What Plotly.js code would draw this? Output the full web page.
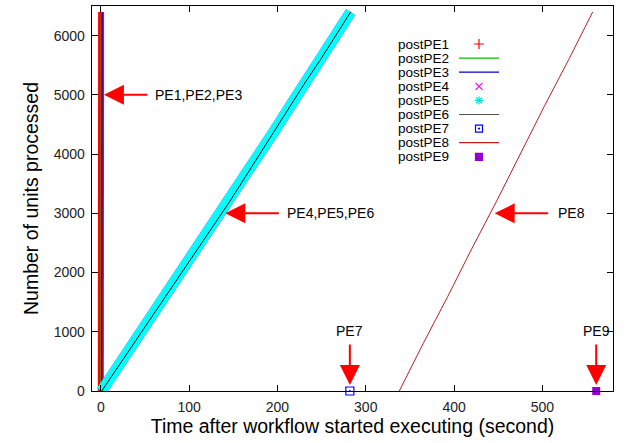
<!DOCTYPE html>
<html><head><meta charset="utf-8">
<script src="https://cdn.plot.ly/plotly-3.0.1.min.js"></script>
<style>html,body{margin:0;padding:0;background:#fff}#c{width:627px;height:443px}</style>
</head><body><div id="c"></div>
<script>
// ---- data ----
const seriesNames = ["postPE1","postPE2","postPE3","postPE4","postPE5","postPE6","postPE7","postPE8","postPE9"];
// PE1-PE3: almost vertical near t=0
const pe1Y = [0, 800, 1600, 2400, 3200, 4000, 4800, 5600, 6400];
const pe1X = [0, 0, 0, 0, 0.2, 0.2, 0.3, 0.3, 0.3];
const pe2X = [0.2, 0.2, 0.3, 0.3, 0.4, 0.4, 0.5, 0.5, 0.5];
const pe3X = [1.0, 1.0, 1.1, 1.1, 1.2, 1.2, 1.3, 1.3, 1.4];
// PE4-PE6: diagonal
const pe456Y = [0, 400, 800, 1200, 1600, 2000, 2400, 2800, 3200, 3600, 4000, 4400, 4800, 5200, 5600, 6000, 6400];
const pe456X = [1, 19, 37, 55, 73, 91, 110, 128, 146, 163, 180, 197, 214, 231, 249, 266, 283];
// PE7: single point
const pe7X = [282]; const pe7Y = [0];
// PE8: diagonal later
const pe8Y = [0, 800, 1600, 2400, 3200, 4000, 4800, 5600, 6400];
const pe8X = [338, 365, 393, 420, 448, 475, 502, 530, 557];
// PE9: single point
const pe9X = [561]; const pe9Y = [0];
// annotation labels
const labels = ["PE1,PE2,PE3", "PE4,PE5,PE6", "PE8", "PE7", "PE9"];
const xTicks = [0, 100, 200, 300, 400, 500];
const yTicks = [0, 1000, 2000, 3000, 4000, 5000, 6000];

// ---- styles ----
const colors = ["#ff0000","#00c000","#0000ff","#ff00ff","#00ffff","#000000","#0000ff","#b22222","#9400d3"];
const legendColors = ["#ff0000","#00c000","#0000cc","#ff00ff","#00e0e0","#555555","#0000ff","#b22222","#9400d3"];
const FONT = "Liberation Sans, Arial, Helvetica, sans-serif";

const traces = [
  {x: pe1X, y: pe1Y, mode: "lines", line: {color: colors[0], width: 6}},
  {x: pe2X, y: pe1Y, mode: "lines", line: {color: colors[1], width: 1.2}},
  {x: pe3X, y: pe1Y, mode: "lines", line: {color: colors[2], width: 1.2}},
  {x: pe456X, y: pe456Y, mode: "lines", line: {color: colors[3], width: 11}},
  {x: pe456X, y: pe456Y, mode: "lines", line: {color: colors[4], width: 11}},
  {x: pe456X, y: pe456Y, mode: "lines", line: {color: colors[5], width: 1}},
  {x: pe7X, y: pe7Y, mode: "markers", cliponaxis: false, marker: {symbol: "square-open-dot", size: 8, color: colors[6], line: {width: 1.2, color: colors[6]}}},
  {x: pe8X, y: pe8Y, mode: "lines", line: {color: colors[7], width: 1}},
  {x: pe9X, y: pe9Y, mode: "markers", cliponaxis: false, marker: {symbol: "square", size: 8, color: colors[8]}}
].map((t, i) => Object.assign(t, {name: seriesNames[i], showlegend: false, hoverinfo: "skip", xaxis: "x", yaxis: "y"}));

// ---- custom legend (gnuplot style: text then sample) on an overlay pixel axis ----
const legRow0 = 44, legStep = 14.1;
const legendKinds = ["cross-thin-open", "line", "line", "x-thin-open", "asterisk-open", "line", "square-open-dot", "line", "square"];
const annotations = [];
seriesNames.forEach((nm, i) => {
  const yy = legRow0 + i * legStep;
  annotations.push({xref: "x2", yref: "y2", x: 396, y: yy, text: nm, showarrow: false, xanchor: "left", yanchor: "middle",
    font: {family: FONT, size: 13.5, color: "#000"}});
  if (legendKinds[i] === "line") {
    traces.push({x: [459, 499], y: [yy, yy], mode: "lines", xaxis: "x2", yaxis: "y2", showlegend: false, hoverinfo: "skip",
      line: {color: legendColors[i], width: 1.2}});
  } else {
    traces.push({x: [479], y: [yy], mode: "markers", xaxis: "x2", yaxis: "y2", showlegend: false, hoverinfo: "skip",
      marker: {symbol: legendKinds[i], size: 7, color: legendColors[i],
        line: {width: 1.2, color: legendColors[i]}}});
  }
});

// ---- arrows and labels ----
const arrowStyle = {showarrow: true, arrowhead: 2, arrowsize: 2, arrowwidth: 2, arrowcolor: "#ff0000", text: "", standoff: 0, xref: "x", yref: "y", axref: "pixel", ayref: "pixel"};
annotations.push(Object.assign({x: 3.5, y: 5000, ax: 45, ay: 0}, arrowStyle));
annotations.push(Object.assign({x: 141, y: 3000, ax: 55, ay: 0}, arrowStyle));
annotations.push(Object.assign({x: 446, y: 3000, ax: 55, ay: 0}, arrowStyle));
annotations.push(Object.assign({x: 282, y: 100, ax: 0, ay: -42}, arrowStyle));
annotations.push(Object.assign({x: 561, y: 100, ax: 0, ay: -42}, arrowStyle));
const lblFont = {family: FONT, size: 14, color: "#000"};
annotations.push({xref: "x", yref: "y", x: 59, y: 5000, text: labels[0], showarrow: false, xanchor: "left", yanchor: "middle", font: lblFont});
annotations.push({xref: "x", yref: "y", x: 208, y: 3000, text: labels[1], showarrow: false, xanchor: "left", yanchor: "middle", font: lblFont});
annotations.push({xref: "x", yref: "y", x: 515, y: 3000, text: labels[2], showarrow: false, xanchor: "left", yanchor: "middle", font: lblFont});
annotations.push({xref: "x", yref: "y", x: 282, y: 1020, text: labels[3], showarrow: false, xanchor: "center", yanchor: "middle", font: lblFont});
annotations.push({xref: "x", yref: "y", x: 561, y: 1020, text: labels[4], showarrow: false, xanchor: "center", yanchor: "middle", font: lblFont});

const axisCommon = {showline: true, linecolor: "#000", linewidth: 1.3, mirror: "ticks", ticks: "inside", ticklen: 6,
  tickcolor: "#000", tickwidth: 1, showgrid: false, zeroline: false, tickfont: {family: FONT, size: 14, color: "#222"}};

const layout = {
  width: 627, height: 443,
  margin: {l: 92, r: 14, t: 6, b: 52},
  paper_bgcolor: "#fff", plot_bgcolor: "#fff",
  showlegend: false,
  font: {family: FONT},
  xaxis: Object.assign({}, axisCommon, {range: [-10, 580], tickvals: xTicks, ticktext: xTicks.map(String), ticklabelstandoff: 3,
    title: {text: "Time after workflow started executing (second)", font: {family: FONT, size: 19.5, color: "#000"}, standoff: 3}}),
  yaxis: Object.assign({}, axisCommon, {range: [0, 6500], tickvals: yTicks, ticktext: yTicks.map(String), ticklabelstandoff: 3,
    title: {text: "Number of units processed", font: {family: FONT, size: 19.5, color: "#000"}, standoff: 10}}),
  xaxis2: {overlaying: "x", range: [92, 613], visible: false, fixedrange: true},
  yaxis2: {overlaying: "y", range: [391, 6], visible: false, fixedrange: true},
  annotations: annotations
};

Plotly.newPlot("c", traces, layout, {staticPlot: true, displayModeBar: false});
</script>
</body></html>
